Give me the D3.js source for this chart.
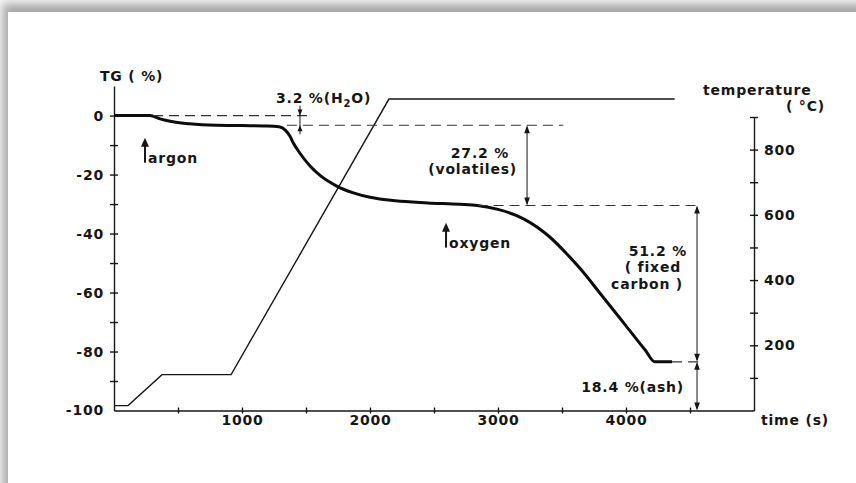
<!DOCTYPE html>
<html>
<head>
<meta charset="utf-8">
<script src="https://cdn.jsdelivr.net/npm/d3@7"></script>
<style>
  body { margin: 0; background: #fff; }
  svg text { font-family: "DejaVu Sans", sans-serif; font-weight: bold; fill: #161616; letter-spacing: 0.8px; }
</style>
</head>
<body>
<div id="chart"></div>
<script>
// TG curve: mass change (%) against time (s)
const tgTime  = [0, 280, 360, 460, 590, 800, 1000, 1200, 1290, 1340, 1375, 1400, 1450, 1530, 1610, 1740, 1870, 2000, 2200, 2450, 2700, 2840, 3000, 3200, 3400, 3540, 3640, 3800, 4000, 4150, 4225, 4360];
const tgValue = [0, 0, -1.1, -2.1, -2.8, -3.3, -3.4, -3.5, -3.8, -5, -7, -9.2, -12.6, -17, -20.3, -23.9, -26.2, -27.7, -28.9, -29.6, -30.1, -30.5, -31.8, -35, -41, -47, -51.8, -60.4, -71.3, -79.5, -83.5, -83.5];

// temperature program (°C)
const tempTime  = [0, 110, 375, 915, 2148, 4380];
const tempValue = [15, 15, 110, 110, 955, 955];

// ticks
const timeTicks  = [500, 1000, 1500, 2000, 2500, 3000, 3500, 4000, 4500];
const timeLabels = [1000, 2000, 3000, 4000];
const tgTicks    = [-90, -80, -70, -60, -50, -40, -30, -20, -10, 0];
const tgLabels   = [0, -20, -40, -60, -80, -100];
const tempTicks  = [100, 200, 300, 400, 500, 600, 700, 800, 900];
const tempLabels = [200, 400, 600, 800];

const levels      = [0, -3.3, -30.5, -83.5, -100];
const stepNames   = [["3.2 %(H", "2", "O)"], ["27.2 %", "(volatiles)"], ["51.2 %", "( fixed", "carbon )"], ["18.4 %(ash)"]];
const gasEvents   = ["argon", "oxygen"];
const gasTimes    = [242, 2594];

const W = 856, H = 483;
const svg = d3.select("#chart").append("svg")
  .attr("width", W)
  .attr("height", H);

// page shadow (scanned sheet look)
const defs = svg.append("defs");
defs.append("filter").attr("id", "blur")
  .attr("x", "-10%").attr("y", "-10%").attr("width", "120%").attr("height", "120%")
  .append("feGaussianBlur").attr("stdDeviation", 4);
svg.append("rect").attr("width", W).attr("height", H).attr("fill", "#f4f4f4");
svg.append("rect").attr("x", 3).attr("y", 4).attr("width", 900).attr("height", 600)
  .attr("fill", "#a8a8a8").attr("filter", "url(#blur)");
svg.append("rect").attr("x", 8).attr("y", 12).attr("width", 900).attr("height", 600)
  .attr("fill", "#fff");

const x  = d3.scaleLinear([0, 5000], [114, 754]);
const y  = d3.scaleLinear([-100, 10], [410.5, 86.1]);
const yT = d3.scaleLinear([0, 900], [410.5, 117]);

const ink = "#161616";
const fs = 14;
const fmt = d => d3.format("d")(d).replace("−", "-");

// left axis (TG)
const gl = svg.append("g").attr("transform", "translate(" + x(0) + ",0)")
  .call(d3.axisLeft(y).tickValues(tgTicks.concat([-100])).tickSizeInner(4).tickSizeOuter(0).tickPadding(6)
    .tickFormat(d => tgLabels.includes(d) ? fmt(d) : ""));
gl.selectAll(".tick line").attr("x1", 4);
gl.selectAll(".tick").filter(d => d === -100).select("line").remove();

// bottom axis (time)
const gb = svg.append("g").attr("transform", "translate(0," + y(-100) + ")")
  .call(d3.axisBottom(x).tickValues(timeTicks).tickSizeInner(3).tickSizeOuter(0).tickPadding(2)
    .tickFormat(d => timeLabels.includes(d) ? d : ""));
gb.selectAll(".tick line").attr("y1", -3);

// right axis (temperature)
const gr = svg.append("g").attr("transform", "translate(" + x(5000) + ",0)")
  .call(d3.axisRight(yT).tickValues(tempTicks).tickSizeInner(4).tickSizeOuter(0).tickPadding(6)
    .tickFormat(d => tempLabels.includes(d) ? d : ""));
gr.selectAll(".tick line").attr("x1", -4);

svg.selectAll(".domain, .tick line").attr("stroke", ink).attr("stroke-width", 1.4);
svg.selectAll(".tick text").attr("fill", ink).attr("font-size", fs)
  .attr("font-family", "DejaVu Sans").attr("font-weight", "bold");

// axis titles
svg.append("text").attr("x", 100).attr("y", 81).attr("font-size", fs).text("TG ( %)");
svg.append("text").attr("x", 703).attr("y", 95).attr("font-size", fs).text("temperature");
svg.append("text").attr("x", 786).attr("y", 111).attr("font-size", fs).text("( °C)");
svg.append("text").attr("x", 761).attr("y", 425).attr("font-size", fs).text("time (s)");

// temperature line
svg.append("path")
  .datum(d3.zip(tempTime, tempValue))
  .attr("fill", "none").attr("stroke", ink).attr("stroke-width", 1.4)
  .attr("d", d3.line().x(d => x(d[0])).y(d => yT(d[1])));

// TG line
svg.append("path")
  .datum(d3.zip(tgTime, tgValue))
  .attr("fill", "none").attr("stroke", "#0c0c0c").attr("stroke-width", 3)
  .attr("stroke-linejoin", "round")
  .attr("d", d3.line().curve(d3.curveMonotoneX).x(d => x(d[0])).y(d => y(d[1])));

// dashed guide lines at the step levels
const guides = [[305, 1530, levels[0]], [1350, 3510, levels[1]], [2840, 4580, levels[2]], [4360, 4580, levels[3]]];
svg.append("g").selectAll("line").data(guides).join("line")
  .attr("x1", d => x(d[0])).attr("x2", d => x(d[1]))
  .attr("y1", d => y(d[2])).attr("y2", d => y(d[2]))
  .attr("stroke", "#333").attr("stroke-width", 1.1).attr("stroke-dasharray", "10,6");

// arrowheads
function head(px, py, dir, w, h) {
  // dir = 1 points down, -1 points up; tip at (px, py)
  svg.append("path")
    .attr("d", "M" + px + "," + py + "L" + (px - w) + "," + (py - dir * h) + "L" + (px + w) + "," + (py - dir * h) + "Z")
    .attr("fill", ink);
}
function vline(px, y1, y2, sw) {
  svg.append("line").attr("x1", px).attr("x2", px).attr("y1", y1).attr("y2", y2)
    .attr("stroke", ink).attr("stroke-width", sw);
}

// 3.2 % water: arrows from outside pointing in
const xw = x(1453);
vline(xw, y(levels[0]) - 10, y(levels[1]) + 9, 1);
head(xw, y(levels[0]), 1, 2.5, 6);
head(xw, y(levels[1]), -1, 2.5, 6);

// volatiles, fixed carbon, ash: double arrows
const xv = x(3227), xc = x(4555);
[[xv, 1, 2], [xc, 2, 3], [xc, 3, 4]].forEach(a => {
  const top = y(levels[a[1]]), bot = y(levels[a[2]]);
  vline(a[0], top + 2, bot - 2, 1);
  head(a[0], top, -1, 2.8, 8);
  head(a[0], bot, 1, 2.8, 8);
});

// step texts
const t1 = svg.append("text").attr("x", 276).attr("y", 103).attr("font-size", fs);
t1.append("tspan").text(stepNames[0][0]);
t1.append("tspan").attr("dy", 4).attr("font-size", 10).text(stepNames[0][1]);
t1.append("tspan").attr("dy", -4).text(stepNames[0][2]);

svg.append("text").attr("x", xv - 18).attr("y", 158).attr("text-anchor", "end").attr("font-size", fs).text(stepNames[1][0]);
svg.append("text").attr("x", xv - 10).attr("y", 174).attr("text-anchor", "end").attr("font-size", fs).text(stepNames[1][1]);

svg.append("text").attr("x", xc - 10).attr("y", 256).attr("text-anchor", "end").attr("font-size", fs).text(stepNames[2][0]);
svg.append("text").attr("x", xc - 16).attr("y", 272).attr("text-anchor", "end").attr("font-size", fs).text(stepNames[2][1]);
svg.append("text").attr("x", xc - 14).attr("y", 289).attr("text-anchor", "end").attr("font-size", fs).text(stepNames[2][2]);

svg.append("text").attr("x", xc - 13).attr("y", 392).attr("text-anchor", "end").attr("font-size", fs).text(stepNames[3][0]);

// gas switch markers
const gasTop = [-7.5, -36.3];
gasEvents.forEach((g, i) => {
  const gx = x(gasTimes[i]), gy = y(gasTop[i]);
  vline(gx, gy + 6, gy + 25, 2);
  head(gx, gy, -1, 4, 9);
  svg.append("text").attr("x", gx + 3).attr("y", gy + 25).attr("font-size", fs).text(g);
});
</script>
</body>
</html>
